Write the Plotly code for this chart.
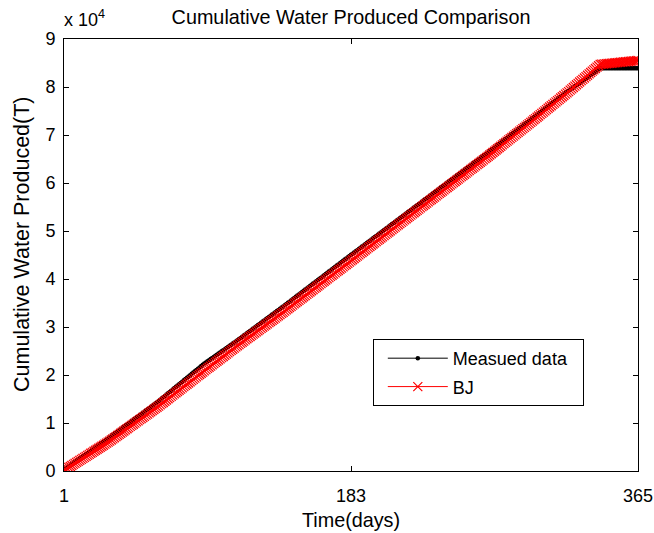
import numpy as np
import plotly.graph_objects as go

# Day index of the production year
days = list(range(1, 366))

# Measured daily water production (T/day)
measured_daily = [
    300,
    228, 235, 230, 226, 233, 237, 229, 231, 234, 227,
    232, 236, 228, 230, 233, 229, 235, 231, 226, 234,
    230, 232, 237, 228, 231, 229, 233, 230, 232,
    240, 247, 242, 238, 245, 249, 241, 243, 246, 239,
    245, 239, 248, 242, 240, 244, 247, 237, 246, 242,
    240, 247, 242, 238, 245, 249, 241, 243, 246, 239,
    267, 274, 269, 265, 272, 276, 268, 270, 273, 266,
    272, 266, 275, 269, 267, 271, 274, 264, 273, 269,
    267, 274, 269, 265, 272, 276, 268, 270, 273, 266,
    232, 226, 235, 229, 227, 231, 234, 224, 233, 229,
    227, 234, 229, 225, 232, 236, 228, 230, 233, 226,
    240, 247, 242, 238, 245, 249, 241, 243, 246, 239,
    245, 239, 248, 242, 240, 244, 247, 237, 246, 242,
    240, 247, 242, 238, 245, 249, 241, 243, 246, 239,
    247, 254, 249, 245, 252, 256, 248, 250, 253, 246,
    252, 246, 255, 249, 247, 251, 254, 244, 253, 249,
    247, 254, 249, 245, 252, 256, 248, 250, 253, 246,
    252, 246, 255, 249, 247, 251, 254, 244, 253, 249,
    247, 254, 249,
    243, 250, 245, 241, 248, 252, 244, 246, 249, 242,
    248, 242, 251, 245, 243, 247, 250, 240, 249, 245,
    243, 250, 245, 241, 248, 252, 244, 246, 249, 242,
    248, 242, 251, 245, 243, 247, 250, 240, 249, 245,
    243, 250, 245, 241, 248, 252, 244,
    242, 249, 244, 240, 247, 251, 243, 245, 248, 241,
    247, 241, 250, 244, 242, 246, 249, 239, 248, 244,
    242, 249, 244, 240, 247, 251, 243, 245, 248, 241,
    247, 241, 250, 244, 242, 246, 249, 239, 248, 244,
    250, 257, 252, 248, 255, 259, 251, 253, 256, 249,
    255, 249, 258, 252, 250, 254, 257, 247, 256, 252,
    250, 257, 252, 248, 255, 259, 251, 253, 256, 249,
    247, 254, 249, 245, 252, 256, 248, 250, 253, 246,
    252, 246, 255, 249, 247, 251, 254, 244, 253, 249,
    230, 237, 232, 228, 235, 239, 231, 233, 236, 229,
    235, 229, 238, 232, 230, 234, 237, 227, 236, 232,
    233,
    3, 0, 2, 5, 0, 1, 4, 0, 2, 3, 0, 1,
    5, 0, 2, 0, 3, 1, 0, 4, 2, 0, 1, 3,
]

# BJ model daily water production (T/day)
bj_daily = [
    100,
    208, 215, 210, 206, 213, 217, 209, 211, 214, 207,
    213, 207, 216, 210, 208, 212, 215, 205, 214, 210,
    208, 215, 210, 206, 213, 217, 209, 211, 214,
    232, 239, 234, 230, 237, 241, 233, 235, 238, 231,
    237, 231, 240, 234, 232, 236, 239, 229, 238, 234,
    232, 239, 234, 230, 237, 241, 233, 235, 238, 231,
    250, 257, 252, 248, 255, 259, 251, 253, 256, 249,
    255, 249, 258, 252, 250, 254, 257, 247, 256, 252,
    250, 257, 252, 248, 255, 259, 251, 253, 256, 249,
    247, 254, 249, 245, 252, 256, 248, 250, 253, 246,
    252, 246, 255, 249, 247, 251, 254, 244, 253, 249,
    237, 244, 239, 235, 242, 246, 238, 240, 243, 236,
    242, 236, 245, 239, 237, 241, 244, 234, 243, 239,
    237, 244, 239, 235, 242, 246, 238, 240, 243, 236,
    246, 253, 248, 244, 251, 255, 247, 249, 252, 245,
    251, 245, 254, 248, 246, 250, 253, 243, 252, 248,
    246, 253, 248, 244, 251, 255, 247, 249, 252, 245,
    251, 245, 254, 248, 246, 250, 253, 243, 252, 248,
    246, 253, 248,
    248, 255, 250, 246, 253, 257, 249, 251, 254, 247,
    253, 247, 256, 250, 248, 252, 255, 245, 254, 250,
    248, 255, 250, 246, 253, 257, 249, 251, 254, 247,
    253, 247, 256, 250, 248, 252, 255, 245, 254, 250,
    248, 255, 250, 246, 253, 257, 249,
    247, 254, 249, 245, 252, 256, 248, 250, 253, 246,
    252, 246, 255, 249, 247, 251, 254, 244, 253, 249,
    247, 254, 249, 245, 252, 256, 248, 250, 253, 246,
    252, 246, 255, 249, 247, 251, 254, 244, 253, 249,
    259, 266, 261, 257, 264, 268, 260, 262, 265, 258,
    264, 258, 267, 261, 259, 263, 266, 256, 265, 261,
    259, 266, 261, 257, 264, 268, 260, 262, 265, 258,
    264, 271, 266, 262, 269, 273, 265, 267, 270, 263,
    269, 263, 272, 266, 264, 268, 271, 261, 270, 266,
    280, 287, 282, 278, 285, 289, 281, 283, 286, 279,
    285, 279, 288, 282, 280, 284, 287, 277, 286, 282,
    283,
    45, 20, 41, 28, 52, 15, 38, 30, 47, 22, 36, 29,
    50, 18, 40, 31, 44, 24, 37, 27, 49, 19, 35, 30,
]

x_ticks = [1, 183, 365]
y_tick_vals = [0, 10000, 20000, 30000, 40000, 50000, 60000, 70000, 80000, 90000]
y_tick_text = ["0", "1", "2", "3", "4", "5", "6", "7", "8", "9"]

measured_cum = np.cumsum(measured_daily)
bj_cum = np.cumsum(bj_daily)

FONT = "Liberation Sans, Arial, Helvetica, sans-serif"

fig = go.Figure()
fig.add_trace(go.Scatter(
    x=days, y=measured_cum, name="Measued data\u00a0\u00a0", mode="lines+markers",
    line=dict(color="black", width=1),
    marker=dict(symbol="circle", size=4.5, color="black"),
    legendgroup="a",
))
fig.add_trace(go.Scatter(
    x=days, y=bj_cum, name="BJ", mode="lines+markers",
    line=dict(color="red", width=1),
    marker=dict(symbol="x-thin", size=9, color="red",
                line=dict(color="red", width=1.2)),
    legendgroup="b",
))

axis_common = dict(
    showline=True, linecolor="black", linewidth=1, mirror="ticks",
    ticks="inside", ticklen=5, tickcolor="black", tickwidth=1,
    showgrid=False, zeroline=False, automargin=False,
    tickfont=dict(family=FONT, size=18, color="black"),
)

fig.update_layout(
    width=654, height=533,
    margin=dict(l=64, r=16, t=39, b=62),
    paper_bgcolor="white", plot_bgcolor="white",
    font=dict(family=FONT, color="black"),
    title=dict(
        text="Cumulative Water Produced Comparison",
        font=dict(family=FONT, size=19.8, color="black"),
        x=0.5, xref="paper", xanchor="center",
        y=1 - 17 / 533, yref="container", yanchor="middle",
    ),
    xaxis=dict(
        axis_common, range=[1, 365], tickvals=x_ticks,
        ticklabelstandoff=8,
        title=dict(text="Time(days)", standoff=8,
                   font=dict(family=FONT, size=19.8, color="black")),
    ),
    yaxis=dict(
        axis_common, range=[0, 90000], tickvals=y_tick_vals, ticktext=y_tick_text,
        ticklabelstandoff=4,
    ),
    legend=dict(
        x=0.538, y=0.3056, xanchor="left", yanchor="top",
        bgcolor="white", bordercolor="black", borderwidth=1,
        font=dict(family=FONT, size=18, color="black"),
        traceorder="grouped", tracegroupgap=2, itemwidth=60,
        indentation=9,
    ),
    showlegend=True,
)

# Vertical axis label
fig.add_annotation(
    text="Cumulative Water Produced(T)", textangle=-90,
    xref="paper", yref="paper", x=(22 - 64) / 574, y=(471 - 244) / 432,
    xanchor="center", yanchor="middle", showarrow=False,
    font=dict(family=FONT, size=21.5, color="black"),
)

# Exponent of the y tick labels
fig.add_annotation(
    text="x 10<sup>4</sup>", xref="paper", yref="paper",
    x=-0.004, y=1.016, xanchor="left", yanchor="bottom", showarrow=False,
    font=dict(family=FONT, size=18, color="black"),
)

fig.write_html("out.html")
